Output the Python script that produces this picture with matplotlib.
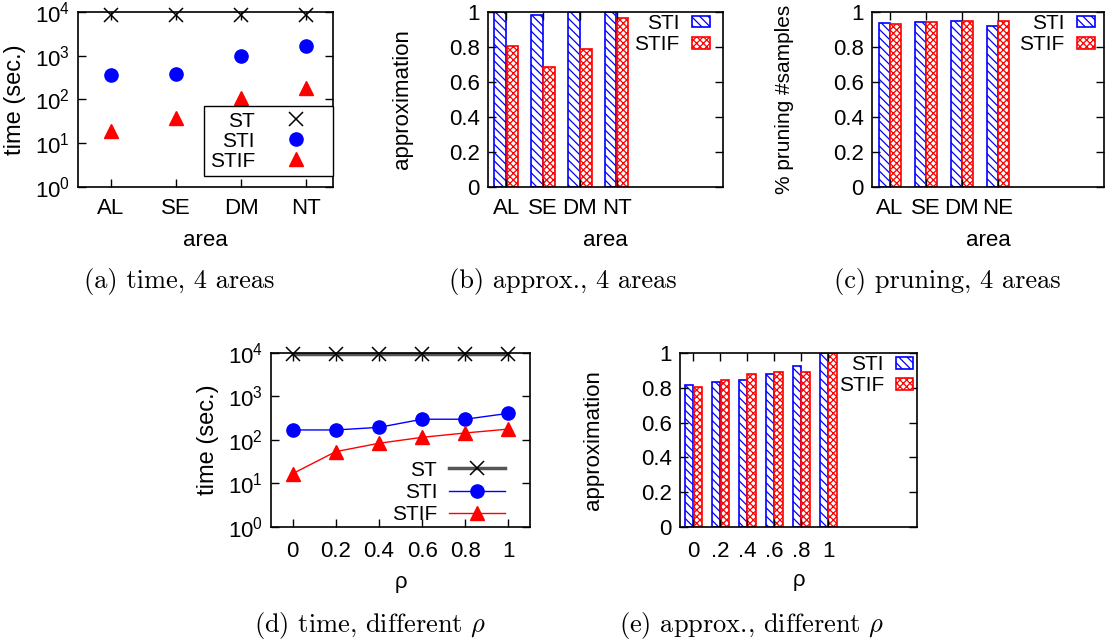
import numpy as np
import matplotlib
matplotlib.use('Agg')
import matplotlib.pyplot as plt
from matplotlib.ticker import FixedLocator, FuncFormatter, NullLocator

plt.rcParams['font.family'] = ['Liberation Sans', 'DejaVu Sans']
plt.rcParams['hatch.linewidth'] = 0.9

BLUE = '#0000ff'
RED = '#ff0000'

# (a) time, 4 areas
areas = ['AL', 'SE', 'DM', 'NT']
time_st = [8500, 8500, 8500, 8500]
time_sti = [370, 380, 1000, 1650]
time_stif = [19, 37, 110, 180]

# (b) approx., 4 areas
approx_sti = [1.0, 0.985, 1.0, 1.0]
approx_stif = [0.805, 0.683, 0.79, 0.968]

# (c) pruning, 4 areas
areas_c = ['AL', 'SE', 'DM', 'NE']
prune_sti = [0.939, 0.945, 0.949, 0.918]
prune_stif = [0.934, 0.945, 0.947, 0.951]

# (d) time, different rho
rho = [0, 0.2, 0.4, 0.6, 0.8, 1]
rho_tick_labels = ['0', '0.2', '0.4', '0.6', '0.8', '1']
rho_st = [9500, 9500, 9500, 9500, 9500, 9500]
rho_sti = [170, 170, 195, 300, 300, 410]
rho_stif = [16.8, 54, 84, 115, 145, 178]

# (e) approx., different rho
rho_short_labels = ['0', '.2', '.4', '.6', '.8', '1']
rho_approx_sti = [0.815, 0.832, 0.847, 0.878, 0.924, 1.0]
rho_approx_stif = [0.802, 0.842, 0.882, 0.889, 0.893, 1.0]

frac_ticks = [0, 0.2, 0.4, 0.6, 0.8, 1]
frac_labels = ['0', '0.2', '0.4', '0.6', '0.8', '1']
log_ticks = [1, 10, 100, 1000, 10000]

TICK_SIZE = 16
LEGEND_SIZE = 15


def style_axes(ax, xpad=8):
    for s in ax.spines.values():
        s.set_linewidth(1.2)
    ax.tick_params(direction='in', top=True, right=True, length=6, width=1, labelsize=TICK_SIZE)
    ax.tick_params(axis='x', pad=xpad)
    ax.tick_params(axis='y', pad=6)


def log_axis(ax):
    ax.set_yscale('log')
    ax.set_ylim(1, 10000)
    ax.yaxis.set_major_locator(FixedLocator(log_ticks))
    ax.yaxis.set_minor_locator(NullLocator())
    ax.yaxis.set_major_formatter(FuncFormatter(lambda v, pos: r'$\mathregular{10^{%d}}$' % round(np.log10(v))))


def set_labels(ax, xlabel, ylabel, xl_y, yl_x, ysize=17):
    ax.set_xlabel(xlabel, fontsize=16, va='center')
    ax.xaxis.set_label_coords(0.5, xl_y)
    ax.set_ylabel(ylabel, fontsize=ysize, va='center')
    ax.yaxis.set_label_coords(yl_x, 0.5)


def plot_time_areas(ax):
    x = np.arange(len(areas))
    ax.plot(x, time_st, linestyle='none', marker='x', ms=10, mec='black', mew=1.1, label='ST', clip_on=False)
    ax.plot(x, time_sti, linestyle='none', marker='o', ms=9.5, color=BLUE, label='STI')
    ax.plot(x, time_stif, linestyle='none', marker='^', ms=10, color=RED, label='STIF')
    log_axis(ax)
    ax.set_xlim(-0.5, 3.41)
    ax.set_xticks(x)
    ax.set_xticklabels(areas)
    style_axes(ax)
    set_labels(ax, 'area', 'time (sec.)', -0.303, -0.247)
    leg = ax.legend(loc='lower right', bbox_to_anchor=(1.0, 0.063), borderaxespad=0, frameon=True,
                    fancybox=False, edgecolor='black', framealpha=1, markerfirst=False, handlelength=3.1,
                    handletextpad=0.4, borderpad=0.25, labelspacing=0.05, fontsize=LEGEND_SIZE)
    leg.get_frame().set_linewidth(1.0)


def plot_bars(ax, labels, sti, stif, width, xmax, right_gap, handle_len=0.85):
    x = np.arange(len(labels))
    ax.bar(x - width / 2 - 0.006, sti, width, color='white', edgecolor=BLUE, hatch='\\\\\\\\',
           linewidth=1.2, label='STI')
    ax.bar(x + width / 2 + 0.006, stif, width, color='white', edgecolor=RED, hatch='xxxxx',
           linewidth=1.2, label='STIF')
    ax.set_xlim(-0.5, xmax)
    ax.set_ylim(0, 1)
    ax.set_xticks(x)
    ax.set_xticklabels(labels)
    ax.set_yticks(frac_ticks)
    ax.set_yticklabels(frac_labels)
    ax.legend(loc='upper right', bbox_to_anchor=(1 - right_gap, 1.0 - 2 / 175), frameon=False,
              markerfirst=False, handlelength=handle_len, handleheight=0.5, handletextpad=0.6,
              borderpad=0, borderaxespad=0, labelspacing=0.1, fontsize=LEGEND_SIZE)


def plot_time_rho(ax):
    ax.plot(rho, rho_st, color='#555555', lw=2.5, marker='x', ms=10, mec='black', mew=1.1,
            label='ST', clip_on=False)
    ax.plot(rho, rho_sti, color=BLUE, lw=1, marker='o', ms=9.5, label='STI')
    ax.plot(rho, rho_stif, color=RED, lw=1, marker='^', ms=10, label='STIF')
    log_axis(ax)
    ax.set_xlim(-0.1, 1.1)
    ax.set_xticks(rho)
    ax.set_xticklabels(rho_tick_labels)
    style_axes(ax, xpad=10)
    set_labels(ax, 'ρ', 'time (sec.)', -0.32, -0.243)
    ax.legend(loc='lower right', bbox_to_anchor=(1 - 25 / 259, 0.017), frameon=False, markerfirst=False,
              handlelength=2.7, handletextpad=0.55, borderpad=0, borderaxespad=0, labelspacing=0.15,
              fontsize=LEGEND_SIZE)


def caption(fig, x, y, text):
    fig.text(x / 1110, 1 - y / 639, text, fontfamily='cmr10', math_fontfamily='cm', fontsize=19,
             ha='center', va='baseline')


def main():
    fig = plt.figure(figsize=(11.1, 6.39), dpi=100)

    ax_a = fig.add_axes([78 / 1110, 0.7074, 255 / 1110, 0.2739])
    plot_time_areas(ax_a)

    ax_b = fig.add_axes([488 / 1110, 0.7074, 235 / 1110, 0.2739])
    plot_bars(ax_b, areas, approx_sti, approx_stif, 0.32, 5.9, 13 / 235)
    style_axes(ax_b)
    set_labels(ax_b, 'area', 'approximation', -0.303, -0.362, ysize=16)

    ax_c = fig.add_axes([872 / 1110, 0.7074, 232 / 1110, 0.2739])
    plot_bars(ax_c, areas_c, prune_sti, prune_stif, 0.31, 5.95, 9 / 232)
    style_axes(ax_c)
    set_labels(ax_c, 'area', '% pruning #samples', -0.303, -0.375, ysize=15)

    ax_d = fig.add_axes([271 / 1110, 0.1753, 259 / 1110, 0.2723])
    plot_time_rho(ax_d)

    ax_e = fig.add_axes([680 / 1110, 0.1753, 237 / 1110, 0.2723])
    plot_bars(ax_e, rho_short_labels, rho_approx_sti, rho_approx_stif, 0.31, 8.3, 4 / 237, handle_len=0.8)
    style_axes(ax_e, xpad=10)
    set_labels(ax_e, 'ρ', 'approximation', -0.305, -0.367, ysize=16)

    caption(fig, 179, 288, '(a) time, 4 areas')
    caption(fig, 563, 288, '(b) approx., 4 areas')
    caption(fig, 947, 288, '(c) pruning, 4 areas')
    caption(fig, 370, 632, r'(d) time, different $\rho$')
    caption(fig, 752, 632, r'(e) approx., different $\rho$')

    fig.savefig('out.png', dpi=100)


if __name__ == "__main__":
    main()
